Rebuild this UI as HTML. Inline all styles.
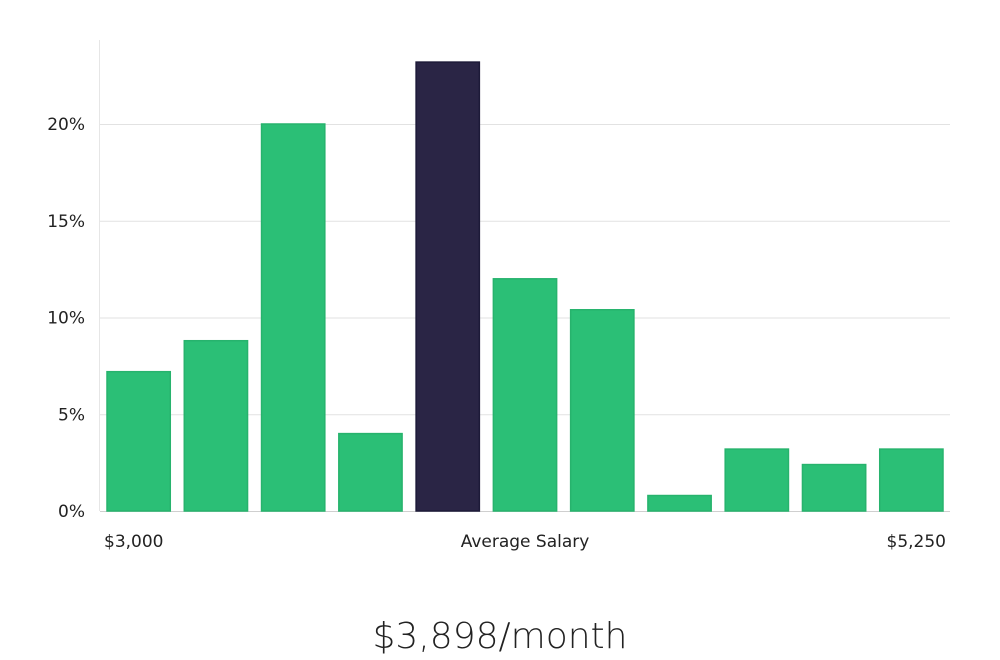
<!DOCTYPE html>
<html><head><meta charset="utf-8"><style>
body{margin:0;background:#fff;width:1000px;height:660px;overflow:hidden}
svg{display:block}
</style></head><body>
<svg width="1000" height="660">
<g id="grid"></g><g id="bars"></g><g id="labels"></g>
<text x="500" y="648" text-anchor="middle" font-family="DejaVu Sans, Liberation Sans, sans-serif" font-size="36" font-weight="300" fill="#222">$3,898/month</text>
</svg>
<script>
const categories=["b1","b2","b3","b4","b5","b6","b7","b8","b9","b10","b11"];
const values=[7.2,8.8,20,4.0,23.2,12.0,10.4,0.8,3.2,2.4,3.2];
const highlight=[false,false,false,false,true,false,false,false,false,false,false];
const yTicks=[0,5,10,15,20];
const yTickLabels=["0%","5%","10%","15%","20%"];
const xLabels=["$3,000","Average Salary","$5,250"];
const NS="http://www.w3.org/2000/svg";
const x0=100,x1=950,yBase=511,pxPerUnit=19.35;
const y=v=>yBase-v*pxPerUnit;
const slot=(x1-x0)/categories.length;
const grid=document.getElementById('grid'),bars=document.getElementById('bars'),labels=document.getElementById('labels');
function mk(tag,attrs,parent){const e=document.createElementNS(NS,tag);for(const k in attrs)e.setAttribute(k,attrs[k]);parent.appendChild(e);return e;}
const ax=mk('line',{x1:99.5,x2:99.5,y1:40,y2:yBase,stroke:'#e6e6e6'},grid);


yTicks.forEach((t,i)=>{
  const l=mk('line',{x1:x0,x2:x1,y1:y(t)+0.5,y2:y(t)+0.5,stroke:t===0?'#cfcfcf':'#e2e2e2'},grid);
  
  
  const tx=mk('text',{x:85,y:y(t)+6,'text-anchor':'end','font-family':'DejaVu Sans, sans-serif','font-size':'17',fill:'#222'},labels);
  tx.textContent=yTickLabels[i];
  
  
});
values.forEach((v,i)=>{
  const bx=x0+i*slot+7,bw=slot-14;
  const r=mk('rect',{x:bx,y:y(v),width:bw,height:yBase-y(v),fill:highlight[i]?'#2a2545':'#2bbf76',stroke:highlight[i]?'#1d1a38':'#27b36d','stroke-width':1.5},bars);
  
  
});
const xl=[[104,'start'],[525,'middle'],[946,'end']];
xLabels.forEach((s,i)=>{
  const t=mk('text',{x:xl[i][0],y:547,'text-anchor':xl[i][1],'font-family':'DejaVu Sans, sans-serif','font-size':'17',fill:'#222'},labels);
  t.textContent=s;
  
  
});
</script>
</body></html>
